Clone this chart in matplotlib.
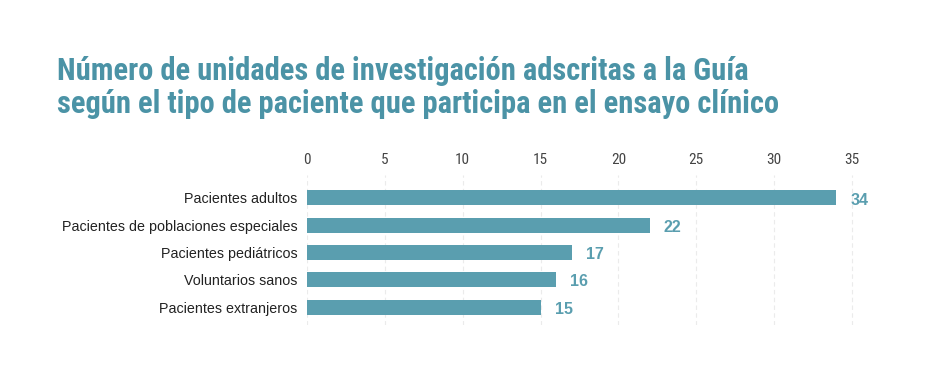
import matplotlib.pyplot as plt
import matplotlib.font_manager as fm

categories = ['Pacientes adultos', 'Pacientes de poblaciones especiales',
              'Pacientes pediátricos', 'Voluntarios sanos', 'Pacientes extranjeros']
values = [34, 22, 17, 16, 15]
ticks = [0, 5, 10, 15, 20, 25, 30, 35]

installed = {f.name for f in fm.fontManager.ttflist}


def pick(*cands):
    for c in cands:
        if c in installed:
            return c
    return 'DejaVu Sans'


cond = pick('Roboto Condensed', 'Archivo Narrow', 'Barlow Condensed', 'Asap Condensed')
sans = pick('Nimbus Sans', 'Arimo', 'Liberation Sans')

bar_color = '#5a9eaf'
title_color = '#4b93a6'

fig = plt.figure(figsize=(9.46, 3.75), dpi=100)
# axes spans x 307..855 px, y 175..325 px
ax = fig.add_axes([307 / 946, 50 / 375, 548 / 946, 150 / 375])

y = list(range(len(categories)))
ax.barh(y, values, height=0.55, color=bar_color, zorder=2)
ax.set_ylim(4.66, -0.84)
ax.set_xlim(0, 35.2)

for yi, v in zip(y, values):
    ax.text(v + 0.9, yi + 0.08, str(v), va='center', ha='left', fontsize=11.5,
            fontweight='bold', color=bar_color, family=[sans, 'DejaVu Sans'])

ax.set_yticks(y)
ax.set_yticklabels(categories, fontsize=10.3, family=[sans, 'DejaVu Sans'], color='#222222')
ax.set_xticks(ticks)
ax.set_xticklabels([str(t) for t in ticks], fontsize=11, color='#444444',
                   family=[cond, 'DejaVu Sans'])
ax.xaxis.tick_top()
ax.tick_params(axis='both', length=0)
ax.tick_params(axis='x', pad=6)
ax.tick_params(axis='y', pad=7)
ax.grid(axis='x', color='#ebebeb', linestyle=(0, (4, 3)), linewidth=0.8, zorder=0)
for s in ax.spines.values():
    s.set_visible(False)

fig.text(57 / 946, 1 - 71 / 375, 'Número de unidades de investigación adscritas a la Guía',
         fontsize=22, fontweight='bold', color=title_color, va='center',
         family=[cond, 'DejaVu Sans'])
fig.text(57 / 946, 1 - 104 / 375, 'según el tipo de paciente que participa en el ensayo clínico',
         fontsize=22, fontweight='bold', color=title_color, va='center',
         family=[cond, 'DejaVu Sans'])

fig.savefig('out.png', dpi=100, facecolor='white')
